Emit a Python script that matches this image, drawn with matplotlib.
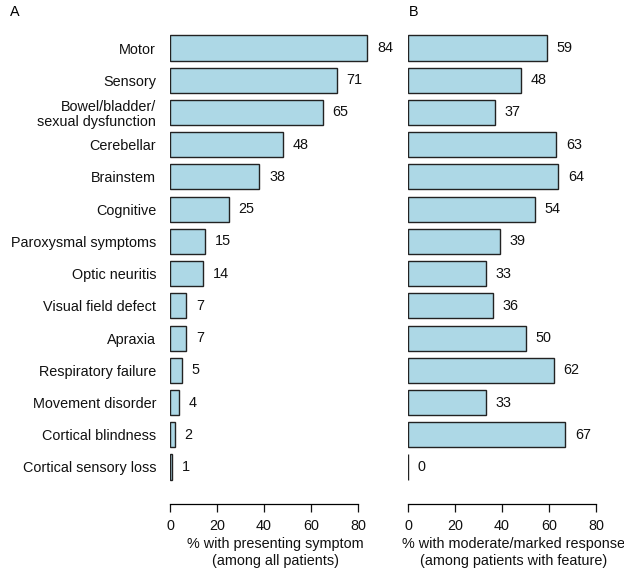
import matplotlib
matplotlib.use("Agg")
import matplotlib.pyplot as plt

categories = ["Motor", "Sensory", "Bowel/bladder/\nsexual dysfunction", "Cerebellar",
              "Brainstem", "Cognitive", "Paroxysmal symptoms", "Optic neuritis",
              "Visual field defect", "Apraxia", "Respiratory failure",
              "Movement disorder", "Cortical blindness", "Cortical sensory loss"]
presenting = [84, 71, 65, 48, 38, 25, 15, 14, 7, 7, 5, 4, 2, 1]
response = [59, 48, 37, 63, 64, 54, 39, 33, 36, 50, 62, 33, 67, 0]
xticks = [0, 20, 40, 60, 80]
xlabel_a = "% with presenting symptom\n(among all patients)"
xlabel_b = "% with moderate/marked response\n(among patients with feature)"

plt.rcParams['font.family'] = ['Liberation Sans', 'DejaVu Sans']
W, H = 624, 575
fig = plt.figure(figsize=(W / 100, H / 100), dpi=100)

bottom = (H - 483.1) / H
height = (483.1 - 31.9) / H
px_per_unit = 2.35
xmax = 90
axw = xmax * px_per_unit / W

axA = fig.add_axes([170 / W, bottom, axw, height])
axB = fig.add_axes([408 / W, bottom, axw, height])

FS = 10.4
pos = list(range(len(categories)))
for ax, vals, xl in [(axA, presenting, xlabel_a), (axB, response, xlabel_b)]:
    ax.barh(pos, vals, height=0.78, color="#ADD8E6", edgecolor="#222222", linewidth=1.0)
    for p, v in zip(pos, vals):
        ax.annotate(str(v), (v, p), xytext=(7, 0), textcoords="offset points",
                    ha="left", va="center", fontsize=FS, color="#111111",
                    annotation_clip=False)
    ax.set_xlim(0, xmax)
    ax.set_ylim(len(categories) - 0.5, -0.5)
    for s in ["top", "right", "left"]:
        ax.spines[s].set_visible(False)
    ax.spines["bottom"].set_position(("outward", 15))
    ax.spines["bottom"].set_bounds(0, 80)
    ax.spines["bottom"].set_linewidth(0.9)
    ax.set_xticks(xticks)
    ax.set_xticklabels([str(t) for t in xticks])
    ax.tick_params(axis="x", length=6, width=0.9, labelsize=FS, pad=5, colors="#111111")
    ax.set_xlabel(xl, fontsize=FS, labelpad=3, color="#111111", linespacing=1.25)
    ax.patch.set_visible(False)

axA.set_yticks(pos)
axA.set_yticklabels(categories, fontsize=FS, linespacing=1.1)
axA.tick_params(axis="y", length=0, pad=10, colors="#111111")
axB.set_yticks([])

fig.text(10 / W, 1 - 12 / H, "A", fontsize=FS, va="center", ha="left")
fig.text(409 / W, 1 - 12 / H, "B", fontsize=FS, va="center", ha="left")

fig.savefig("out.png", dpi=100)
